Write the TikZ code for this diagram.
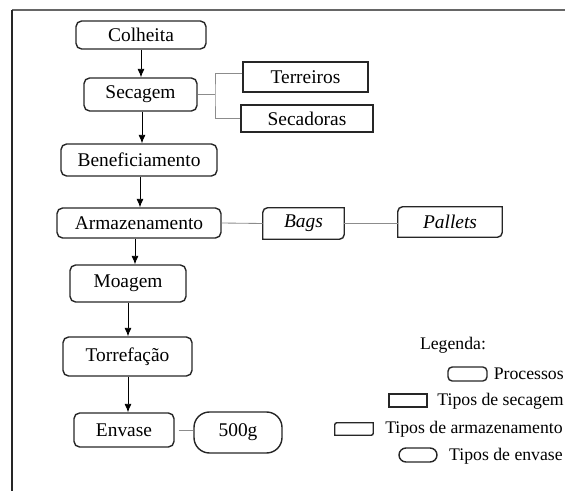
\documentclass[tikz,border=0pt]{standalone}
\usepackage{fontspec}
\setmainfont{Liberation Serif}
\usepackage{tikz}
\usetikzlibrary{positioning}
\usetikzlibrary{arrows.meta}
\newcommand{\px}{0.025cm}
% caixa de armazenamento: cantos superior esquerdo e inferior direito arredondados
\newcommand{\armazem}[2][3.5pt]{%
  \draw[line width=1pt, draw=black!85] (#2.south west) -- ([yshift=-#1]#2.north west)
    arc[start angle=180, end angle=90, radius=#1] -- (#2.north east)
    -- ([yshift=#1]#2.south east) arc[start angle=0, end angle=-90, radius=#1] -- cycle;}

\begin{document}
\begin{tikzpicture}[x=0.025cm, y=-0.025cm,
  >={Latex[length=6pt,width=5pt]}]

\tikzset{processo/.style={draw=black!85, line width=1pt, rounded corners=4pt, inner sep=0pt, font=\fontsize{13.8}{16}\selectfont}}
\tikzset{secbox/.style={draw=black!85, line width=1pt, inner sep=0pt, font=\fontsize{13.8}{16}\selectfont}}
\tikzset{armbox/.style={inner sep=0pt, font=\fontsize{13.8}{16}\selectfont\itshape}}
\tikzset{envbox/.style={draw=black!85, line width=1pt, rounded corners=11pt, inner sep=0pt, font=\fontsize{13.8}{16}\selectfont}}
\tikzstyle{seta}=[->, black, line width=0.6pt]
\tikzstyle{ligacao}=[black!45, line width=0.6pt]
\tikzstyle{legenda}=[inner sep=0pt, anchor=east, font=\fontsize{12.6}{15}\selectfont]

\useasboundingbox (0,0) rectangle (565,491);

% Rahmen
\draw[line width=1.4pt, black!60] (565,10) -- (12,10);
\draw[line width=1.4pt, black!85] (12,10) -- (12,491);

% Processos
\node[processo, minimum width=130*\px, minimum height=28*\px] (colheita) at (141,35) {Colheita};
\node[processo, minimum width=113*\px, minimum height=33*\px] (secagem) at (140.5,94.5) {Secagem};
\node[processo, minimum width=156*\px, minimum height=32*\px] (beneficiamento) at (139,160) {Beneficiamento};
\node[processo, minimum width=164*\px, minimum height=30*\px] (armazenamento) at (139,223) {Armazenamento};
\node[processo, minimum width=116*\px, minimum height=37*\px] (moagem) at (128,283.5) {Moagem};
\node[processo, minimum width=129*\px, minimum height=39*\px] (torrefacao) at (127.5,356.5) {Torrefação};
\node[processo, minimum width=100*\px, minimum height=34*\px] (envase) at (124,430) {Envase};

% Tipos de secagem
\node[secbox, minimum width=125*\px, minimum height=30*\px] (terreiros) at (305.5,77) {Terreiros};
\node[secbox, minimum width=132*\px, minimum height=27*\px] (secadoras) at (307,118.5) {Secadoras};

% Tipos de armazenamento
\node[armbox, minimum width=81*\px, minimum height=31*\px] (bags) at (303.5,223.5) {Bags};
\node[armbox, minimum width=104*\px, minimum height=30*\px] (pallets) at (450,222) {Pallets};
\armazem{bags}
\armazem{pallets}

% Tipos de envase
\node[envbox, minimum width=88*\px, minimum height=41*\px] (quinhentos) at (238,432.5) {500g};

% Setas
\draw[seta] (colheita.south -| 141,0) -- (secagem.north -| 141,0);
\draw[seta] (secagem.south -| 142,0) -- (beneficiamento.north -| 142,0);
\draw[seta] (beneficiamento.south -| 140,0) -- (armazenamento.north -| 140,0);
\draw[seta] (armazenamento.south -| 135,0) -- (moagem.north -| 135,0);
\draw[seta] (moagem.south -| 128,0) -- (torrefacao.north -| 128,0);
\draw[seta] (torrefacao.south -| 128,0) -- (envase.north -| 128,0);

% Ligacoes
\draw[ligacao] (secagem.east) -- (215,94.5) coordinate (ramo);
\draw[ligacao] (terreiros.west |- 0,73) -| (ramo) |- (secadoras.west |- 0,118);
\draw[ligacao] (armazenamento.east) -- (bags.west);
\draw[ligacao] (bags.east) -- (pallets.west |- bags.east);
\draw[ligacao, shorten <=4*\px] (envase.east) -- (quinhentos.west |- envase.east);

% Legenda
\node[inner sep=0pt, font=\fontsize{12.6}{15}\selectfont] (legtitulo) at (453,345) {Legenda:};
\node[legenda] (tproc) at (564,374) {Processos};
\node[legenda] (tsec) at (564,401) {Tipos de secagem};
\node[legenda] (tarm) at (563,429) {Tipos de armazenamento};
\node[legenda] (tenv) at (563,456) {Tipos de envase};
\node[draw=black!85, line width=1pt, rounded corners=3pt, minimum width=39*\px, minimum height=14*\px, inner sep=0pt] (legproc) at (467.5,374) {};
\node[draw=black!85, line width=1pt, minimum width=38*\px, minimum height=13*\px, inner sep=0pt] (legsec) at (408,400.5) {};
\node[inner sep=0pt, minimum width=38*\px, minimum height=12*\px] (legarm) at (354,429) {};
\armazem[1.5pt]{legarm}
\node[draw=black!85, line width=1pt, rounded corners=5pt, minimum width=38*\px, minimum height=14*\px, inner sep=0pt] (legenv) at (418,455) {};

\end{tikzpicture}
\end{document}
